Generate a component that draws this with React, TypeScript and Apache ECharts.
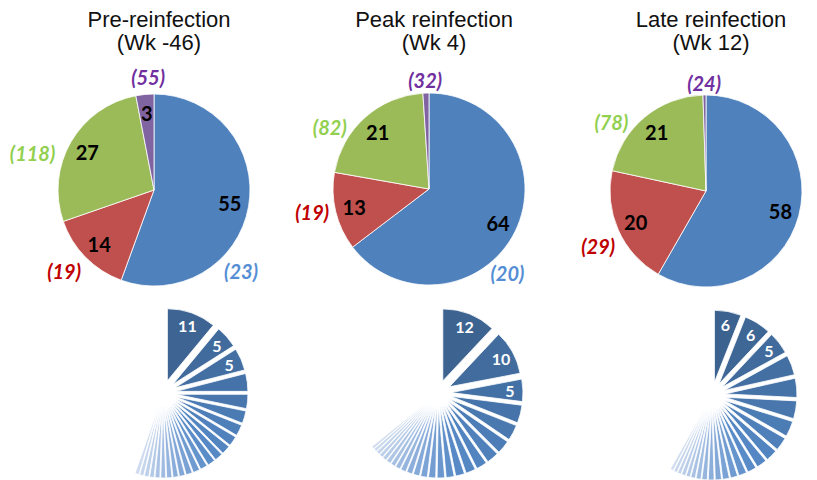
import React, { useEffect, useRef } from 'react';
import * as echarts from 'echarts';

// Panel titles (one per time point)
const panelTitles = ['Pre-reinfection\n(Wk -46)', 'Peak reinfection\n(Wk 4)', 'Late reinfection\n(Wk 12)'];

// Slice shares (%) of the four groups, clockwise from 12 o'clock
const groupKeys = ['A', 'B', 'C', 'D'];
const preShares = [55, 14, 27, 3];
const peakShares = [64, 13, 21, 1];
const lateShares = [58, 20, 21, 0.5];

// Counts shown in parentheses next to each slice
const preCounts = [23, 19, 118, 55];
const peakCounts = [20, 19, 82, 32];
const lateCounts = [23, 29, 78, 24];

// Individual clone shares (%) making up the first group, largest first
const preClones = [11, 5, 5, 4, 3.2, 2.8, 2.5, 2.2, 2, 1.8, 1.7, 1.6, 1.5, 1.4, 1.3, 1.2, 1.2, 1.1, 1.1, 1, 1, 0.9, 0.9];
const peakClones = [12, 10, 5, 4, 3.5, 3, 2.7, 2.4, 2.2, 2, 1.8, 1.7, 1.6, 1.5, 1.4, 1.3, 1.2, 1.1, 1, 1, 0.9, 0.8, 0.8, 0.7, 0.6];
const lateClones = [6, 6, 5, 4.5, 4.3, 4, 3.5, 3, 2.6, 2.3, 2, 1.8, 1.6, 1.5, 1.4, 1.3, 1.2, 1.1, 1, 0.9, 0.9, 0.8, 0.8, 0.7];

const sharesByPanel = [preShares, peakShares, lateShares];
const countsByPanel = [preCounts, peakCounts, lateCounts];
const clonesByPanel = [preClones, peakClones, lateClones];

// ---- layout & style ----
const pieCenters = [[154, 190], [429, 189], [706, 191]];
const pieRadius = 96;
const fanCenters = [[163, 393], [438, 393], [712, 395]];
const fanRadius = 72;
const fanOffset = 13;
const fanLabelBand = [26, 86];
const labeledClones = 3;

const sliceColors = ['#4F81BD', '#C0504D', '#9BBB59', '#8064A2'];
const countColors = ['#558ED5', '#C00000', '#92D050', '#7030A0'];
// Anchor of each count label: [angle clockwise from 12 o'clock (deg), distance from centre]
const countAnchors = [
  [[133, 119], [228, 121], [287, 127], [357, 113]],
  [[137, 115], [259, 119], [302, 117], [358, 109]],
  [[133, 118], [243, 121], [306, 117], [359, 108]],
];

const fanStops: [number, string][] = [
  [0, '#3B608B'],
  [0.45, '#4674AA'],
  [0.72, '#578AC7'],
  [0.87, '#8FB0DC'],
  [1, '#D2DEEF'],
];

const numberFont = 'Lato, "Open Sans", sans-serif';
const titleFont = '"Liberation Sans", Arial, sans-serif';
const clear = 'rgba(0,0,0,0)';

function hexToRgb(h: string) {
  const n = parseInt(h.slice(1), 16);
  return [(n >> 16) & 255, (n >> 8) & 255, n & 255];
}

function fanColor(t: number) {
  for (let i = 1; i < fanStops.length; i++) {
    const [t1, c1] = fanStops[i];
    const [t0, c0] = fanStops[i - 1];
    if (t <= t1) {
      const f = (t - t0) / (t1 - t0);
      const a = hexToRgb(c0);
      const b = hexToRgb(c1);
      const m = a.map((v, k) => Math.round(v + (b[k] - v) * f));
      return `rgb(${m[0]},${m[1]},${m[2]})`;
    }
  }
  return fanStops[fanStops.length - 1][1];
}

function buildOption() {
  const series: any[] = [];
  const titles: any[] = [];

  sharesByPanel.forEach((shares, p) => {
    const [cx, cy] = pieCenters[p];
    const counts = countsByPanel[p];

    titles.push({
      text: panelTitles[p],
      left: cx,
      top: 3,
      textAlign: 'center',
      textStyle: { fontFamily: titleFont, fontSize: 22, lineHeight: 23, fontWeight: 'normal', color: '#111' },
    });

    // group pie
    series.push({
      type: 'pie',
      silent: true,
      center: [cx, cy],
      radius: pieRadius,
      startAngle: 90,
      clockwise: true,
      label: { show: false },
      labelLine: { show: false },
      data: shares.map((v, i) => ({
        name: groupKeys[i],
        value: v,
        itemStyle: { color: sliceColors[i], borderColor: '#fff', borderWidth: 0.8 },
      })),
    });

    // share values inside the slices
    series.push({
      type: 'pie',
      silent: true,
      center: [cx, cy],
      radius: [52, pieRadius],
      startAngle: 90,
      label: {
        show: true,
        position: 'inside',
        fontFamily: numberFont,
        fontWeight: 'bold',
        fontSize: 20,
        color: '#000',
        formatter: (d: any) => (d.value >= 3 ? String(d.value) : ''),
      },
      labelLine: { show: false },
      data: shares.map((v, i) => ({ name: groupKeys[i], value: v, itemStyle: { color: clear } })),
    });

    // counts around the pie
    series.push({
      type: 'pie',
      silent: true,
      center: [cx, cy],
      radius: pieRadius,
      startAngle: 90,
      label: {
        show: true,
        position: 'outside',
        fontFamily: numberFont,
        fontWeight: 'bold',
        fontStyle: 'italic',
        fontSize: 20,
      },
      labelLine: { show: false, length: 2, length2: 0 },
      labelLayout: (params: any) => {
        const [ang, dist] = countAnchors[p][params.dataIndex];
        const rad = (ang * Math.PI) / 180;
        return {
          x: cx + dist * Math.sin(rad),
          y: cy - dist * Math.cos(rad),
          align: 'center',
          verticalAlign: 'middle',
        };
      },
      data: shares.map((v, i) => ({
        name: groupKeys[i],
        value: v,
        itemStyle: { color: clear },
        label: { formatter: `(${counts[i]})`, color: countColors[i] },
      })),
    });

    // clone fan for the first group
    const clones = clonesByPanel[p];
    const [fx, fy] = fanCenters[p];
    const total = clones.reduce((a, b) => a + b, 0);
    const rest = Math.max(0, 100 - total);
    let cum = 0;
    const fanData: any[] = clones.map((v, i) => {
      const t = (cum + v / 2) / total;
      cum += v;
      return {
        name: `clone ${i + 1}`,
        value: v,
        selected: true,
        itemStyle: { color: fanColor(t), borderColor: '#fff', borderWidth: 0.8 },
      };
    });
    fanData.push({ name: 'rest', value: rest, selected: false, itemStyle: { color: clear, borderWidth: 0 } });

    series.push({
      type: 'pie',
      silent: true,
      center: [fx, fy],
      radius: fanRadius,
      startAngle: 90,
      selectedMode: 'multiple',
      selectedOffset: fanOffset,
      select: { itemStyle: { borderColor: '#fff', borderWidth: 0.8 } },
      label: { show: false },
      labelLine: { show: false },
      data: fanData,
    });

    // clone values on the largest wedges
    const fanLabelData: any[] = clones.map((v, i) => ({
      name: `clone ${i + 1}`,
      value: v,
      selected: true,
      itemStyle: { color: clear, borderWidth: 0 },
      label: { show: i < labeledClones },
    }));
    fanLabelData.push({ name: 'rest', value: rest, selected: false, itemStyle: { color: clear, borderWidth: 0 }, label: { show: false } });

    series.push({
      type: 'pie',
      silent: true,
      center: [fx, fy],
      radius: fanLabelBand,
      startAngle: 90,
      selectedMode: 'multiple',
      selectedOffset: fanOffset,
      select: { itemStyle: { color: clear, borderWidth: 0 } },
      label: {
        show: true,
        position: 'inside',
        fontFamily: numberFont,
        fontWeight: 'bold',
        fontSize: 16,
        color: '#fff',
        formatter: (d: any) => String(d.value),
      },
      labelLine: { show: false },
      data: fanLabelData,
    });
  });

  return {
    animation: false,
    backgroundColor: '#fff',
    title: titles,
    series,
  };
}

export default function App() {
  const ref = useRef<HTMLDivElement>(null);

  useEffect(() => {
    if (!ref.current) return;
    const chart = echarts.init(ref.current, undefined, { renderer: 'svg' });
    chart.setOption(buildOption() as any);
    return () => chart.dispose();
  }, []);

  return (
    <div
      ref={ref}
      style={{ position: 'fixed', left: 0, top: 0, width: 817, height: 480, background: '#fff' }}
    />
  );
}
